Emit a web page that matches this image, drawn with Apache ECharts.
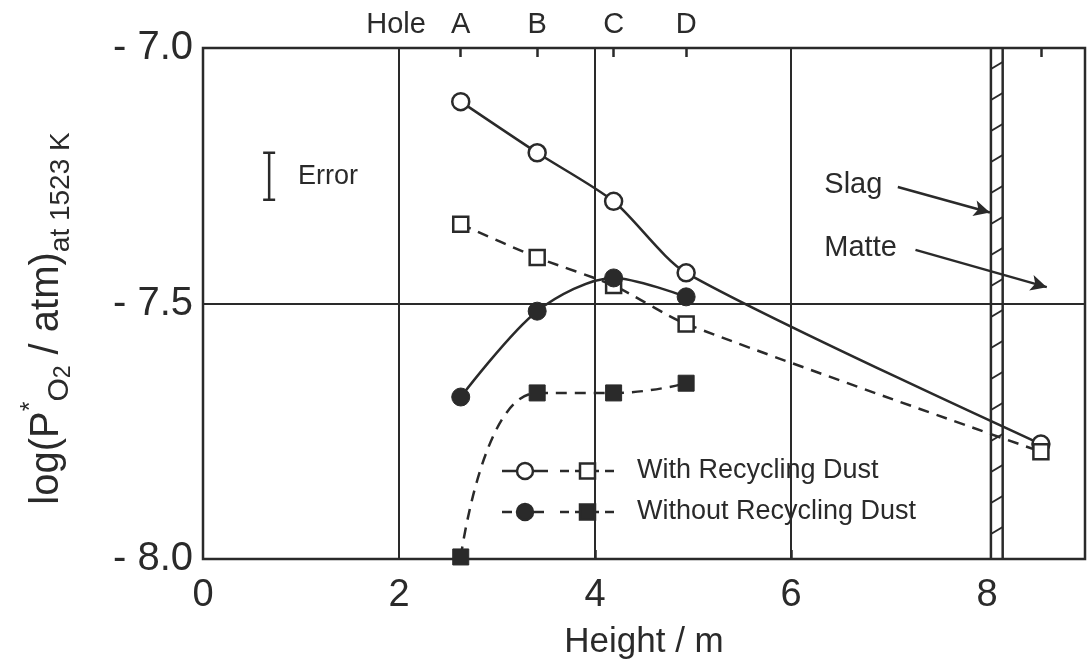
<!DOCTYPE html>
<html>
<head>
<meta charset="utf-8">
<script src="https://cdn.jsdelivr.net/npm/echarts@6/dist/echarts.min.js"></script>
<style>
html,body{margin:0;padding:0;background:#fff;}
#c{width:1088px;height:667px;}
</style>
</head>
<body>
<div id="c"></div>
<script>
// ---- data ----
var holeNames = ['A', 'B', 'C', 'D'];
var holeX = [2.63, 3.41, 4.19, 4.93];
var lastX = 8.55;
var withCircleY = [-7.105, -7.205, -7.30, -7.44, -7.775];   // open circles, solid
var withSquareY = [-7.345, -7.41, -7.465, -7.54, -7.79];    // open squares, dashed
var withoutCircleY = [-7.683, -7.515, -7.45, -7.487];        // filled circles, solid
var withoutSquareY = [-7.996, -7.675, -7.675, -7.656];       // filled squares, dashed
var xTickLabels = [0, 2, 4, 6, 8];
var yTickLabels = [-8.0, -7.5, -7.0];
var topLabelPos = [1.97, 2.63, 3.41, 4.19, 4.93];
var topLabelText = ['Hole', 'A', 'B', 'C', 'D'];
var gridX = [2, 4, 6];
var gridY = [-7.5];
var slagBand = [8.04, 8.16];
var errorBar = {x: 0.675, lo: -7.297, hi: -7.205};
var notes = [
  {name: 'Error', x: 0.97, y: -7.252, size: 27},
  {name: 'Slag', x: 6.34, y: -7.268, size: 29},
  {name: 'Matte', x: 6.34, y: -7.391, size: 29}
];
var arrows = [
  [[7.09, -7.272], [8.03, -7.322]],
  [[7.27, -7.395], [8.61, -7.468]]
];
var legendRows = ['With Recycling Dust', 'Without Recycling Dust'];

// ---- build ----
var INK = '#2a2a2a';
var FONT = 'Liberation Sans';
function pts(xs, ys) { return ys.map(function (y, i) { return [xs[i], y]; }); }
var xsWithLast = holeX.concat([lastX]);

var chart = echarts.init(document.getElementById('c'), null, {renderer: 'canvas'});

var option = {
  backgroundColor: '#fff',
  animation: false,
  textStyle: {fontFamily: FONT, color: INK},
  grid: {left: 203, right: 3, top: 48, bottom: 108, show: true, borderColor: INK, borderWidth: 2.5,
    backgroundColor: 'transparent', outerBoundsMode: 'none', containLabel: false},
  xAxis: [{
    type: 'value', min: 0, max: 9, position: 'bottom',
    axisLine: {show: false},
    splitLine: {show: false},
    axisTick: {show: true, inside: true, length: 9, customValues: [4, 6], lineStyle: {color: INK, width: 2.5}},
    axisLabel: {customValues: xTickLabels, fontSize: 38, color: INK, fontFamily: FONT, margin: 18},
    name: 'Height / m', nameLocation: 'middle', nameGap: 66,
    nameTextStyle: {fontSize: 35, color: INK, fontFamily: FONT}
  }, {
    type: 'value', min: 0, max: 9, position: 'top',
    axisLine: {show: false},
    splitLine: {show: false},
    axisTick: {show: true, inside: true, length: 9, customValues: holeX.concat([lastX]), lineStyle: {color: INK, width: 2.5}},
    axisLabel: {customValues: topLabelPos, fontSize: 29, color: INK, fontFamily: FONT, margin: 9,
      formatter: function (v) { var i = topLabelPos.indexOf(v); return i >= 0 ? topLabelText[i] : ''; }}
  }],
  yAxis: {
    type: 'value', min: -8, max: -7, interval: 0.5,
    axisLine: {show: false}, axisTick: {show: false}, splitLine: {show: false},
    axisLabel: {fontSize: 40, color: INK, fontFamily: FONT, margin: 10,
      formatter: function (v) { return '- ' + Math.abs(v).toFixed(1); }},
    name: '{a|log(P}{s|*}{b|O}{c|2}{a| / atm)}{d|at 1523 K}',
    nameLocation: 'middle', nameGap: 128,
    nameTextStyle: {
      color: INK, fontFamily: FONT, padding: [0, 30, 0, 0],
      rich: {
        a: {fontSize: 40, lineHeight: 56, color: INK, fontFamily: FONT, verticalAlign: 'middle'},
        s: {fontSize: 25, lineHeight: 56, color: INK, fontFamily: FONT, verticalAlign: 'top'},
        b: {fontSize: 30, lineHeight: 30, color: INK, fontFamily: FONT, verticalAlign: 'bottom'},
        c: {fontSize: 23, lineHeight: 23, color: INK, fontFamily: FONT, verticalAlign: 'bottom'},
        d: {fontSize: 28, lineHeight: 28, color: INK, fontFamily: FONT, verticalAlign: 'bottom'}
      }
    }
  },
  series: [
    // grid lines
    {
      type: 'line', data: [], silent: true,
      markLine: {
        silent: true, symbol: 'none', label: {show: false},
        lineStyle: {color: INK, width: 2, type: 'solid'},
        data: gridX.map(function (v) { return {xAxis: v}; }).concat(gridY.map(function (v) { return {yAxis: v}; }))
      }
    },
    // slag band
    {
      type: 'custom', silent: true, data: [slagBand],
      renderItem: function (params, api) {
        var p0 = api.coord([api.value(0), -7]);
        var p1 = api.coord([api.value(1), -8]);
        var x0 = p0[0], x1 = p1[0], yt = p0[1], yb = p1[1];
        var children = [
          {type: 'line', shape: {x1: x0, y1: yt, x2: x0, y2: yb}, style: {stroke: INK, lineWidth: 2.5}},
          {type: 'line', shape: {x1: x1, y1: yt, x2: x1, y2: yb}, style: {stroke: INK, lineWidth: 2.5}}
        ];
        for (var y = yt + 14; y < yb - 4; y += 31) {
          children.push({type: 'line', shape: {x1: x0, y1: y + 7, x2: x1, y2: y}, style: {stroke: INK, lineWidth: 2}});
        }
        return {type: 'group', children: children};
      }
    },
    // error bar
    {
      type: 'custom', silent: true, data: [[errorBar.x, errorBar.lo, errorBar.hi]],
      renderItem: function (params, api) {
        var a = api.coord([api.value(0), api.value(1)]);
        var b = api.coord([api.value(0), api.value(2)]);
        return {type: 'group', children: [
          {type: 'line', shape: {x1: a[0], y1: a[1], x2: b[0], y2: b[1]}, style: {stroke: INK, lineWidth: 2.5}},
          {type: 'line', shape: {x1: a[0] - 6, y1: a[1], x2: a[0] + 6, y2: a[1]}, style: {stroke: INK, lineWidth: 2.5}},
          {type: 'line', shape: {x1: b[0] - 6, y1: b[1], x2: b[0] + 6, y2: b[1]}, style: {stroke: INK, lineWidth: 2.5}}
        ]};
      }
    },
    // text notes + arrows
    {
      type: 'scatter', symbolSize: 0, silent: true,
      itemStyle: {opacity: 1},
      data: notes.map(function (n) { return {name: n.name, value: [n.x, n.y], label: {fontSize: n.size}}; }),
      label: {show: true, position: 'right', distance: 0, color: INK, fontFamily: FONT, formatter: '{b}'},
      markLine: {
        silent: true, symbol: ['none', 'arrow'], symbolSize: [12, 16], label: {show: false},
        lineStyle: {color: INK, width: 2.5, type: 'solid', opacity: 1},
        data: arrows.map(function (a) { return [{coord: a[0]}, {coord: a[1]}]; })
      }
    },
    // With recycling dust: open circles, solid
    {
      name: 'With (circle)', type: 'line', smooth: 0.25, data: pts(xsWithLast, withCircleY),
      symbol: 'circle', symbolSize: 17, showAllSymbol: true,
      lineStyle: {color: INK, width: 2.5},
      itemStyle: {color: '#fff', borderColor: INK, borderWidth: 2.5}, z: 5
    },
    // With recycling dust: open squares, dashed
    {
      name: 'With (square)', type: 'line', smooth: 0.25, data: pts(xsWithLast, withSquareY),
      symbol: 'rect', symbolSize: 15,
      lineStyle: {color: INK, width: 2.5, type: [11, 8]},
      itemStyle: {color: '#fff', borderColor: INK, borderWidth: 2.5}, z: 5
    },
    // Without: filled circles, solid
    {
      name: 'Without (circle)', type: 'line', smooth: 0.3, data: pts(holeX, withoutCircleY),
      symbol: 'circle', symbolSize: 18,
      lineStyle: {color: INK, width: 2.5},
      itemStyle: {color: INK, borderColor: INK, borderWidth: 1}, z: 5
    },
    // Without: filled squares, dashed
    {
      name: 'Without (square)', type: 'line', smooth: 0.5, data: pts(holeX, withoutSquareY),
      symbol: 'rect', symbolSize: 16,
      lineStyle: {color: INK, width: 2.5, type: [11, 8]},
      itemStyle: {color: INK, borderColor: INK, borderWidth: 1}, z: 5
    }
  ],
  graphic: []
};

// legend (drawn as graphic rows)
function legendRow(y, filled, text) {
  var fill = filled ? INK : '#fff';
  return {
    type: 'group', children: [
      {type: 'line', shape: {x1: 502, y1: y, x2: 548, y2: y}, style: {stroke: INK, lineWidth: 2.5, lineDash: filled ? [10, 6] : null}},
      {type: 'circle', shape: {cx: 525, cy: y, r: 8}, style: {fill: fill, stroke: INK, lineWidth: 2.5}},
      {type: 'line', shape: {x1: 560, y1: y, x2: 620, y2: y}, style: {stroke: INK, lineWidth: 2.5, lineDash: [9, 6]}},
      {type: 'rect', shape: {x: 580, y: y - 7.5, width: 15, height: 15}, style: {fill: fill, stroke: INK, lineWidth: 2.5}},
      {type: 'text', x: 637, y: y, style: {text: text, fontSize: 27, fontFamily: FONT, fill: INK, textVerticalAlign: 'middle', verticalAlign: 'middle'}}
    ]
  };
}
option.graphic = [legendRow(471, false, legendRows[0]), legendRow(512, true, legendRows[1])];

chart.setOption(option);
</script>
</body>
</html>
